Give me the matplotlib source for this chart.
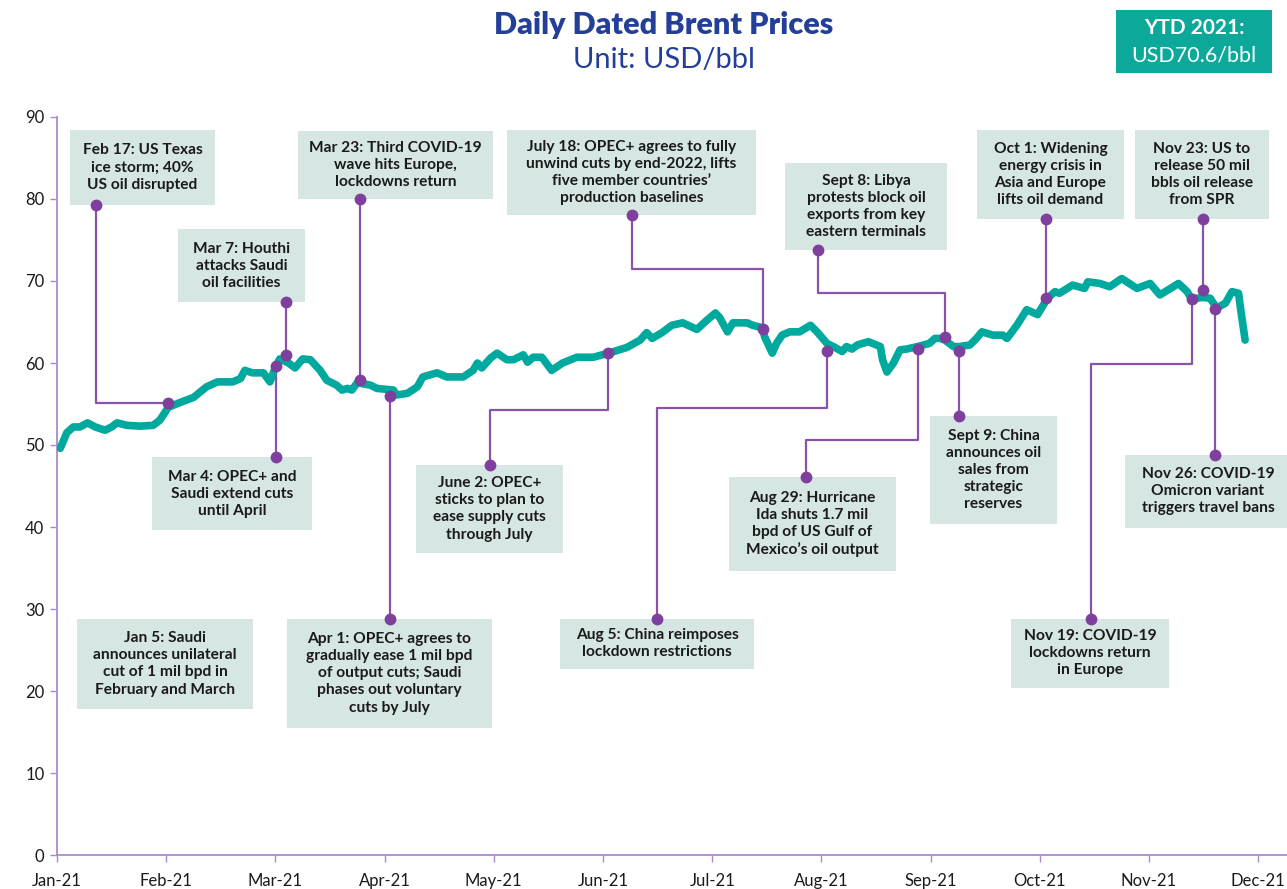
import matplotlib
matplotlib.use("Agg")
import matplotlib.pyplot as plt
from matplotlib.patches import Rectangle

plt.rcParams['font.family'] = ['Lato', 'DejaVu Sans']

# ---------------- data ----------------
month_labels = ["Jan-21", "Feb-21", "Mar-21", "Apr-21", "May-21", "Jun-21",
                "Jul-21", "Aug-21", "Sep-21", "Oct-21", "Nov-21", "Dec-21"]
y_ticks = [0, 10, 20, 30, 40, 50, 60, 70, 80, 90]

# position along the axis, in months since Jan-21
t = [0.03, 0.09, 0.15, 0.21, 0.28, 0.35, 0.44, 0.50, 0.55, 0.64, 0.76, 0.88, 0.94,
     1.02, 1.13, 1.25, 1.37, 1.47, 1.61, 1.68, 1.72, 1.79, 1.89, 1.95,
     2.00, 2.04, 2.12, 2.18, 2.25, 2.32, 2.41, 2.47, 2.56, 2.61, 2.66, 2.70, 2.75, 2.87, 2.93,
     3.08, 3.11, 3.21, 3.30, 3.35, 3.48, 3.57, 3.72, 3.81, 3.85, 3.89, 3.97,
     4.03, 4.12, 4.18, 4.27, 4.31, 4.36, 4.44, 4.53, 4.63, 4.76, 4.91,
     5.05, 5.22, 5.34, 5.40, 5.45, 5.54, 5.63, 5.73, 5.86, 5.95,
     6.03, 6.07, 6.14, 6.19, 6.32, 6.37, 6.46, 6.48, 6.55, 6.59, 6.64, 6.71, 6.80, 6.90, 6.96,
     7.05, 7.11, 7.19, 7.23, 7.28, 7.33, 7.43, 7.54, 7.56, 7.60, 7.66, 7.72, 7.78, 7.88, 7.99,
     8.04, 8.09, 8.13, 8.21, 8.26, 8.36, 8.42, 8.47, 8.57, 8.66, 8.70, 8.79, 8.88, 8.98,
     9.07, 9.14, 9.18, 9.30, 9.41, 9.44, 9.55, 9.64, 9.75, 9.89,
     10.01, 10.10, 10.27, 10.35, 10.39, 10.49, 10.56, 10.62, 10.70, 10.76, 10.82, 10.84, 10.88]
price = [49.6, 51.5, 52.2, 52.2, 52.7, 52.2, 51.8, 52.2, 52.7, 52.4, 52.3, 52.4, 53.0,
         54.6, 55.2, 55.8, 57.1, 57.7, 57.7, 58.1, 59.1, 58.8, 58.8, 57.7,
         59.5, 60.5, 60.0, 59.4, 60.5, 60.4, 59.1, 57.9, 57.3, 56.7, 56.9, 56.7, 57.6, 57.3, 56.9,
         56.7, 56.1, 56.3, 57.1, 58.3, 58.8, 58.3, 58.3, 59.1, 60.0, 59.4, 60.6,
         61.2, 60.4, 60.4, 61.0, 60.1, 60.7, 60.7, 59.1, 60.0, 60.7, 60.7,
         61.2, 61.9, 62.8, 63.7, 63.0, 63.7, 64.6, 64.9, 64.1, 65.2,
         66.1, 65.5, 63.8, 64.9, 64.9, 64.6, 64.3, 63.2, 61.2, 62.4, 63.4, 63.8, 63.8, 64.6, 63.8,
         62.4, 62.0, 61.4, 62.0, 61.7, 62.2, 62.6, 62.0, 60.4, 58.9, 60.0, 61.6, 61.7, 62.0, 62.4,
         63.0, 63.0, 62.8, 62.0, 62.0, 62.2, 63.0, 63.8, 63.4, 63.4, 63.0, 64.6, 66.5, 65.9,
         67.9, 68.7, 68.5, 69.5, 69.1, 69.9, 69.7, 69.3, 70.3, 69.1,
         69.7, 68.3, 69.7, 68.7, 67.8, 68.0, 67.9, 66.7, 67.3, 68.7, 68.5, 66.5, 62.8]

event_texts = [
    "Feb 17: US Texas\nice storm; 40%\nUS oil disrupted",
    "Mar 7: Houthi\nattacks Saudi\noil facilities",
    "Mar 23: Third COVID-19\nwave hits Europe,\nlockdowns return",
    "Mar 4: OPEC+ and\nSaudi extend cuts\nuntil April",
    "Jan 5: Saudi\nannounces unilateral\ncut of 1 mil bpd in\nFebruary and March",
    "Apr 1: OPEC+ agrees to\ngradually ease 1 mil bpd\nof output cuts; Saudi\nphases out voluntary\ncuts by July",
    "June 2: OPEC+\nsticks to plan to\nease supply cuts\nthrough July",
    "July 18: OPEC+ agrees to fully\nunwind cuts by end-2022, lifts\nfive member countries\u2019\nproduction baselines",
    "Aug 5: China reimposes\nlockdown restrictions",
    "Sept 8: Libya\nprotests block oil\nexports from key\neastern terminals",
    "Aug 29: Hurricane\nIda shuts 1.7 mil\nbpd of US Gulf of\nMexico\u2019s oil output",
    "Sept 9: China\nannounces oil\nsales from\nstrategic\nreserves",
    "Oct 1: Widening\nenergy crisis in\nAsia and Europe\nlifts oil demand",
    "Nov 23: US to\nrelease 50 mil\nbbls oil release\nfrom SPR",
    "Nov 19: COVID-19\nlockdowns return\nin Europe",
    "Nov 26: COVID-19\nOmicron variant\ntriggers travel bans",
]

# ---------------- layout ----------------
# box extents (x0, x1, y_bottom, y_top) in axis units
boxes = [
    (0.12, 1.447, 79.3, 88.4),
    (1.108, 2.271, 67.4, 76.3),
    (2.207, 3.993, 80.0, 88.3),
    (0.870, 2.335, 39.6, 48.5),
    (0.183, 1.795, 17.8, 28.8),
    (2.106, 3.984, 15.5, 28.8),
    (3.288, 4.634, 36.8, 47.6),
    (4.121, 6.401, 78.0, 88.4),
    (4.606, 6.383, 22.7, 28.8),
    (6.667, 8.150, 73.8, 84.4),
    (6.154, 7.683, 34.6, 46.1),
    (7.995, 9.158, 40.4, 53.5),
    (8.425, 9.771, 77.6, 88.4),
    (9.872, 11.099, 77.6, 88.4),
    (8.736, 10.183, 20.4, 28.8),
    (9.780, 11.30, 39.9, 48.8),
]
# connector paths (None = no connector)
paths = [
    [(0.357, 79.3), (0.357, 55.1), (1.02, 55.1)],
    [(2.097, 67.4), (2.097, 61.0)],
    [(2.775, 80.0), (2.775, 57.9)],
    [(2.005, 48.5), (2.005, 59.6)],
    None,
    [(3.049, 28.8), (3.049, 56.0)],
    [(3.965, 47.6), (3.965, 54.3), (5.046, 54.3), (5.046, 61.2)],
    [(5.266, 78.0), (5.266, 71.5), (6.465, 71.5), (6.465, 64.1)],
    [(5.495, 28.8), (5.495, 54.5), (7.051, 54.5), (7.051, 61.5)],
    [(6.969, 73.8), (6.969, 68.5), (8.132, 68.5), (8.132, 63.2)],
    [(6.859, 46.1), (6.859, 50.6), (7.885, 50.6), (7.885, 61.7)],
    [(8.260, 53.5), (8.260, 61.5)],
    [(9.057, 77.6), (9.057, 67.9)],
    [(10.495, 77.6), (10.495, 68.9)],
    [(9.469, 28.8), (9.469, 59.9), (10.394, 59.9), (10.394, 67.8)],
    [(10.604, 48.8), (10.604, 66.6)],
]

TEAL = "#00A99D"
PURPLE = "#7E3F9D"
CONN = "#8A52AA"
BOX = "#D5E6E3"
AXC = "#A98BCF"
TXT = "#1A1A1A"

fig = plt.figure(figsize=(12.87, 8.89), dpi=100)
ax = fig.add_axes([57 / 1287, (889 - 855) / 889, 1 - 57 / 1287, (855 - 117) / 889])

ax.plot(t, price, color=TEAL, lw=5.5, solid_capstyle='round', solid_joinstyle='round', zorder=3)

for txt, (x0, x1, y0, y1), path in zip(event_texts, boxes, paths):
    ax.add_patch(Rectangle((x0, y0), x1 - x0, y1 - y0, facecolor=BOX, edgecolor='none',
                           zorder=1, clip_on=False))
    ax.text((x0 + x1) / 2, (y0 + y1) / 2, txt, ha='center', va='center', fontsize=11.2,
            fontweight='bold', color=TXT, linespacing=1.28, zorder=2, clip_on=False)
    if path:
        xs = [p[0] for p in path]
        ys = [p[1] for p in path]
        ax.plot(xs, ys, color=CONN, lw=1.6, zorder=2, clip_on=False)
        ax.plot([xs[0], xs[-1]], [ys[0], ys[-1]], 'o', color=PURPLE, ms=8.5,
                markeredgewidth=0, zorder=4, clip_on=False)

ax.set_xlim(0, (1287 - 57) / 109.2)
ax.set_ylim(0, 90)
ax.set_xticks(range(len(month_labels)))
ax.set_xticklabels(month_labels)
ax.set_yticks(y_ticks)
for s in ['top', 'right']:
    ax.spines[s].set_visible(False)
for s in ['left', 'bottom']:
    ax.spines[s].set_color(AXC)
    ax.spines[s].set_linewidth(1.3)
ax.tick_params(axis='both', colors=AXC, length=5, width=1.0, labelcolor=TXT, labelsize=12)
ax.tick_params(axis='x', pad=8)
ax.tick_params(axis='y', pad=4)

fig.text(664 / 1287, 1 - 25 / 889, "Daily Dated Brent Prices", ha='center', va='center',
         fontsize=22, fontweight='heavy', color="#233F99")
fig.text(664 / 1287, 1 - 60 / 889, "Unit: USD/bbl", ha='center', va='center',
         fontsize=21, color="#233F99")

fig.patches.append(Rectangle((1116 / 1287, 1 - 73 / 889), 156 / 1287, 63 / 889,
                             transform=fig.transFigure, facecolor="#0CA99A",
                             edgecolor='none'))
fig.text(1194 / 1287, 1 - 28 / 889, "YTD 2021:", ha='center', va='center',
         fontsize=15, fontweight='bold', color='white')
fig.text(1194 / 1287, 1 - 55 / 889, "USD70.6/bbl", ha='center', va='center',
         fontsize=15.5, color='white')

fig.savefig("out.png", dpi=100)
